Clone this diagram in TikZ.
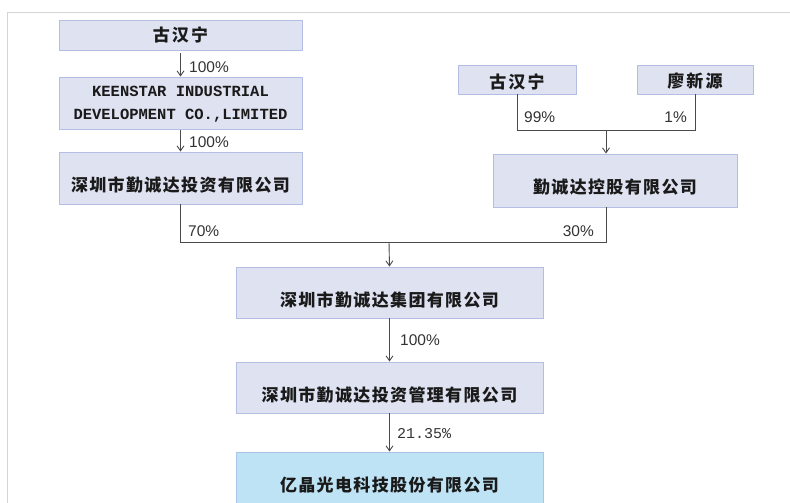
\documentclass[tikz,border=0pt]{standalone}
\usepackage{fontspec}
\usetikzlibrary{arrows.meta}
\newfontfamily\cjk[LetterSpace=8]{Noto Sans CJK SC}
\newfontfamily\cjkwide[LetterSpace=13]{Noto Sans CJK SC}
\newfontfamily\lab{Liberation Sans}
\newfontfamily\monolab{Liberation Mono}
\definecolor{boxfill}{HTML}{DEE2F1}
\definecolor{boxline}{HTML}{B3BEE2}
\definecolor{bluefill}{HTML}{BEE3F5}
\definecolor{blueline}{HTML}{A9C4E6}
\definecolor{lineclr}{HTML}{4A4A4A}
\definecolor{frameclr}{HTML}{D4D4D4}
\definecolor{txt}{HTML}{1A1A1A}
\definecolor{labclr}{HTML}{333333}
\tikzset{
  box/.style={draw=boxline, fill=boxfill, line width=0.9pt, inner sep=0pt},
  bluebox/.style={draw=blueline, fill=bluefill, line width=0.9pt, inner sep=0pt},
  cjktext/.style={font=\cjk\bfseries\fontsize{17pt}{20pt}\selectfont, text=txt, inner sep=0pt},
  cjkwidetext/.style={font=\cjkwide\bfseries\fontsize{17pt}{20pt}\selectfont, text=txt, inner sep=0pt},
  engtext/.style={font=\monolab\bfseries\fontsize{15.5pt}{23pt}\selectfont, text=txt, inner sep=0pt, align=center},
  pct/.style={font=\lab\fontsize{15.5pt}{18pt}\selectfont, text=labclr, inner sep=0pt},
  pctmono/.style={font=\monolab\fontsize{15pt}{18pt}\selectfont, text=labclr, inner sep=0pt},
  conn/.style={draw=lineclr, line width=0.9pt},
  arr/.style={conn, -{Straight Barb[length=5pt,width=7pt]}}
}
\begin{document}
\begin{tikzpicture}[x=1pt,y=-1pt]
\useasboundingbox (0,0) rectangle (790,503);
\fill[white] (0,0) rectangle (790,503);
% frame
\draw[frameclr, line width=1pt] (7,503) -- (7,13) -- (790,13);
% boxes
\node[box, minimum width=243pt, minimum height=30pt] (a) at (180.5,35) {};
\node[cjkwidetext] (at) at (a.center) {古汉宁};
\node[box, minimum width=243pt, minimum height=52pt] (b) at (180.5,103) {};
\node[engtext] (bt) at ([yshift=-1pt]b.center) {KEENSTAR INDUSTRIAL\\DEVELOPMENT CO.,LIMITED};
\node[box, minimum width=243pt, minimum height=52pt] (c) at (180.5,178) {};
\node[cjktext] (ct) at ([yshift=-7pt]c.center) {深圳市勤诚达投资有限公司};
\node[box, minimum width=118pt, minimum height=29pt] (d) at (517,79.5) {};
\node[cjkwidetext] (dt) at ([yshift=-2pt]d.center) {古汉宁};
\node[box, minimum width=116pt, minimum height=29pt] (e) at (695,79.5) {};
\node[cjkwidetext] (et) at ([yshift=-2pt]e.center) {廖新源};
\node[box, minimum width=244pt, minimum height=53pt] (f) at (615,180.5) {};
\node[cjktext] (ft) at ([yshift=-7pt]f.center) {勤诚达控股有限公司};
\node[box, minimum width=307pt, minimum height=51pt] (g) at (389.5,292.5) {};
\node[cjktext] (gt) at ([yshift=-7.5pt]g.center) {深圳市勤诚达集团有限公司};
\node[box, minimum width=307pt, minimum height=51pt] (h) at (389.5,387.5) {};
\node[cjktext] (ht) at ([yshift=-7.5pt]h.center) {深圳市勤诚达投资管理有限公司};
\node[bluebox, minimum width=307pt, minimum height=52pt] (i) at (389.5,478) {};
\node[cjktext] (it) at ([yshift=-7.5pt]i.center) {亿晶光电科技股份有限公司};
% junction coordinates
\coordinate (tj) at (606,130);
\coordinate (jr) at (606,242);
\coordinate (jm) at (389,242);
% connectors left column
\draw[arr] ([yshift=-3pt]a.south) -- (b.north);
\draw[arr] ([yshift=-1pt]b.south) -- (c.north);
% top right
\draw[conn] (d.south) |- (e.south |- tj) -- (e.south);
\draw[arr] (tj) -- (tj |- f.north);
% middle
\draw[conn] (c.south) |- (jr) -- (jr |- f.south);
\draw[arr] (jm) -- (g.north);
\draw[arr] (g.south) -- (h.north);
\draw[arr] (h.south) -- (i.north);
% labels
\node[pct, anchor=west] (p1) at (189,67) {100\%};
\node[pct, anchor=west] (p2) at (189,142) {100\%};
\node[pct, anchor=west] (p3) at (188,231) {70\%};
\node[pct, anchor=east] (p4) at (594,231) {30\%};
\node[pct, anchor=west] (p5) at (524,117) {99\%};
\node[pct, anchor=east] (p6) at (687,117) {1\%};
\node[pct, anchor=west] (p7) at (400,340) {100\%};
\node[pctmono, anchor=west] (p8) at (397,434) {21.35\%};
\end{tikzpicture}
\end{document}
